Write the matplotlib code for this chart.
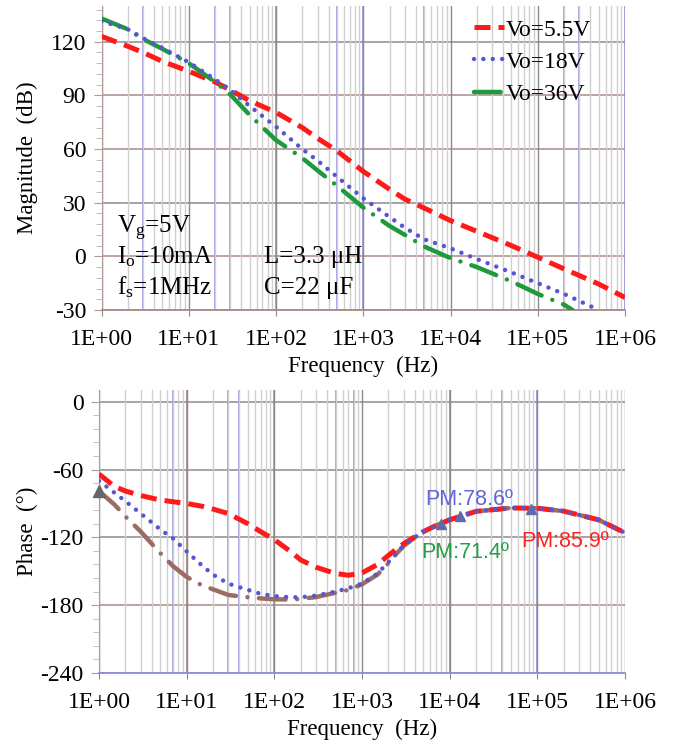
import numpy as np
import matplotlib
matplotlib.use("Agg")
import matplotlib.pyplot as plt
from matplotlib import ticker

# ---------------- data ----------------
mag_freq = [1, 2, 3, 5, 10, 20, 30, 50, 100, 200, 300, 500, 1000, 2000, 3000,
            5000, 1e4, 2e4, 5e4, 1e5, 2e5, 5e5, 1e6]
mag_55 = [123, 117.5, 114, 109, 103.5, 97.5, 93, 87, 80.5, 72, 66, 59, 47.5,
          37.5, 32, 27, 20, 14, 6, -0.5, -7, -15.5, -23]
mag_18_freq = mag_freq[:-1]
mag_18 = [131.5, 127, 122, 116.5, 108.5, 99, 93, 84, 72.5, 60, 53.5, 44.5,
          32.5, 22, 16, 9.5, 4.5, -1.5, -9, -15, -21, -30]
mag_36_freq = [1, 2, 3, 5, 10, 20, 30, 50, 100, 200, 300, 500, 1000, 2000,
               3000, 5000, 1e4, 2e4, 5e4, 1e5, 2e5, 2.5e5]
mag_36 = [133, 127, 121.5, 116, 108, 97.5, 90.5, 79, 65, 55, 48, 39.5, 27.3,
          17, 12, 5.5, -1, -6, -14, -21, -27, -30]

ph_freq = [1, 1.5, 2, 3, 5, 7, 10, 15, 20, 30, 50, 70, 100, 150, 200, 300, 500,
           700, 1000, 1500, 2000, 2500, 3000, 4000, 5000, 7000, 1e4, 2e4, 5e4,
           1e5, 2e5, 5e5, 1e6]
ph_55 = [-64, -75, -79, -83, -87, -88.5, -90, -92.5, -95, -99, -108, -115,
         -122, -132, -140, -146.5, -152, -153.5, -151.5, -144, -136, -130,
         -125.5, -119.5, -115, -109.5, -104.5, -97, -94, -94.3, -96.8, -104.5,
         -116]
ph_18 = [-70, -80.5, -88, -99, -113, -121, -132.5, -145, -153, -161, -166.5,
         -170, -172, -173, -173, -171.5, -168, -165, -161, -152, -142, -133.5,
         -127, -120, -115, -109.5, -104.5, -97, -94, -94.3, -96.8, -104.5,
         -116]
ph_36 = [-79, -91, -101.5, -115, -134, -145.5, -155, -162.5, -166, -171, -173,
         -174, -174.8, -175, -174.5, -172.8, -169, -166.5, -161.5, -153,
         -143, -134, -127.5, -120, -115, -109.5, -104.5, -97, -94, -94.3,
         -96.8, -104.5, -116]
pm_freq = [8000, 13000, 85000]
pm_phase = [-108.5, -101.5, -94.5]
start_freq = [1]
start_phase = [-79]

labels = ["Vo=5.5V", "Vo=18V", "Vo=36V"]
mag_ticks = [-30, 0, 30, 60, 90, 120]
ph_ticks = [-240, -180, -120, -60, 0]
decades = [1, 10, 100, 1000, 1e4, 1e5, 1e6]

# ---------------- style ----------------
RED = "#ff1a1a"
BLUE = "#5656d2"
GREEN = "#1d9a3c"
BROWN = "#9c6b62"
SERIF = "Liberation Serif"
SANS = "Liberation Sans"

plt.rcParams["font.family"] = SERIF
plt.rcParams["axes.unicode_minus"] = False
plt.rcParams["mathtext.fontset"] = "custom"
plt.rcParams["mathtext.rm"] = SERIF
plt.rcParams["mathtext.it"] = SERIF + ":italic"

W, H = 675, 745
fig = plt.figure(figsize=(W / 100, H / 100), dpi=100)

def fx(px):
    return px / W

def fy(py):
    return 1 - py / H

ax1 = fig.add_axes([fx(101.5), fy(310), fx(625) - fx(101.5), fy(6) - fy(310)])
ax2 = fig.add_axes([fx(99), fy(673), fx(625) - fx(99), fy(390.4) - fy(673)])

minor_x = [d * k for d in decades[:-1] for k in range(2, 10)]

def setup(ax, yticks, ylim, minor_step, blue_x, brown_x, hcolors, bottom_color):
    ax.set_xscale("log")
    ax.set_xlim(1, 1e6)
    ax.set_ylim(*ylim)
    ax.set_yticks(yticks)
    ax.yaxis.set_minor_locator(ticker.MultipleLocator(minor_step))
    ax.xaxis.set_major_locator(ticker.FixedLocator(decades))
    ax.xaxis.set_minor_locator(ticker.FixedLocator(minor_x))
    ax.xaxis.set_minor_formatter(ticker.NullFormatter())
    ax.xaxis.set_major_formatter(ticker.FuncFormatter(
        lambda v, _: "1E+%02d" % int(round(np.log10(v)))))
    ax.grid(which="minor", axis="x", color="#cfcfcf", lw=1.0, zorder=0)
    ax.grid(which="major", axis="x", color="#8a8a8a", lw=1.0, zorder=0)
    for xv in blue_x:
        ax.axvline(xv, color="#8c8ce6", lw=1.1, zorder=0.5)
    for xv in brown_x:
        ax.axvline(xv, color="#a07a72", lw=1.1, zorder=0.5)
    for yv, c in zip(yticks, hcolors):
        ax.axhline(yv, color=c, lw=1.1, zorder=0.5)
    for s in ["top", "right"]:
        ax.spines[s].set_visible(False)
    ax.spines["left"].set_color("#b09a96")
    ax.spines["bottom"].set_color(bottom_color)
    ax.spines["bottom"].set_linewidth(1.3)
    ax.tick_params(axis="y", which="major", direction="out", length=6,
                   color="#b09a96", labelsize=17, pad=5)
    ax.tick_params(axis="y", which="minor", direction="out", length=4,
                   color="#c0b0ae")
    ax.tick_params(axis="x", which="major", direction="out", length=4,
                   color="#8a8a8a", labelsize=17, pad=10)
    ax.tick_params(axis="x", which="minor", length=0)
    ax.set_xlabel("Frequency  (Hz)", fontsize=16.5, labelpad=4)

setup(ax1, mag_ticks, (-30, 140), 6,
      [3, 20, 30, 100, 500, 1000, 5000, 2e5, 3e5, 1e6], [],
      ["#a88a86", "#a88a86", "#8c8c8c", "#a88a86", "#a88a86", "#8c8c8c"],
      "#a88a86")
setup(ax2, ph_ticks, (-240, 10), 12,
      [7, 30, 40, 100, 500, 800, 4e4, 1e5], [1, 10, 1e4],
      ["#8c8cdc", "#a88a86", "#8c8c8c", "#8c8c8c", "#8c8c8c"],
      "#8c8cdc")

# ---------------- magnitude ----------------
lr, = ax1.plot(mag_freq, mag_55, color=RED, lw=3.6, ls=(0, (3.2, 1.6)),
               dash_capstyle="butt", zorder=3, label=labels[0])
lb, = ax1.plot(mag_18_freq, mag_18, color=BLUE, lw=3.2, ls=(0, (0.01, 2.1)),
               dash_capstyle="round", zorder=4, label=labels[1])
lg, = ax1.plot(mag_36_freq, mag_36, color=GREEN, lw=3.2,
               ls=(0, (6.0, 2.6, 0.01, 2.6)), dash_capstyle="round",
               zorder=3.5, label=labels[2])
ax1.set_ylabel("Magnitude  (dB)", fontsize=16.5, labelpad=9)

leg = ax1.legend(handles=[lr, lb, lg], loc="upper left",
                 bbox_to_anchor=(fx(474), fy(19)), bbox_transform=fig.transFigure,
                 frameon=False, fontsize=17, handlelength=1.25, handletextpad=0.1,
                 labelspacing=0.45, borderpad=0, borderaxespad=0)

tk = dict(fontsize=18, family=SERIF, transform=fig.transFigure, va="baseline")
fig.text(fx(117), fy(233), r"V$_\mathregular{g}$=5V", **tk)
fig.text(fx(117), fy(263.5), r"I$_\mathregular{o}$=10mA", **tk)
fig.text(fx(117), fy(294), r"f$_\mathregular{s}$=1MHz", **tk)
fig.text(fx(264), fy(263.5), "L=3.3 μH", **tk)
fig.text(fx(264), fy(294), "C=22 μF", **tk)

# ---------------- phase ----------------
ax2.plot(ph_freq, ph_36, color=BROWN, lw=3.2, ls=(0, (6.0, 2.6, 0.01, 2.6)),
         dash_capstyle="round", zorder=3)
ax2.plot(ph_freq, ph_55, color=RED, lw=3.6, ls=(0, (3.2, 1.6)),
         dash_capstyle="butt", zorder=3.5)
ax2.plot(ph_freq, ph_18, color=BLUE, lw=3.2, ls=(0, (0.01, 2.1)),
         dash_capstyle="round", zorder=4)
ax2.plot(pm_freq, pm_phase, ls="none", marker="^", ms=7, color="#5a66c0",
         mec="#6a6a9a", zorder=5)
ax2.plot(start_freq, start_phase, ls="none", marker="^", ms=9, color="#666666",
         zorder=5, clip_on=False)
ax2.set_ylabel("Phase  (°)", fontsize=16.5, labelpad=2)

pk = dict(fontsize=15.5, family=SANS, transform=fig.transFigure, va="baseline")
fig.text(fx(425), fy(505), "PM:78.6º", color="#6464dc", **pk)
fig.text(fx(421), fy(558), "PM:71.4º", color="#22a046", **pk)
fig.text(fx(521), fy(547), "PM:85.9º", color="#ff2222", **pk)

fig.savefig("out.png", dpi=100)
